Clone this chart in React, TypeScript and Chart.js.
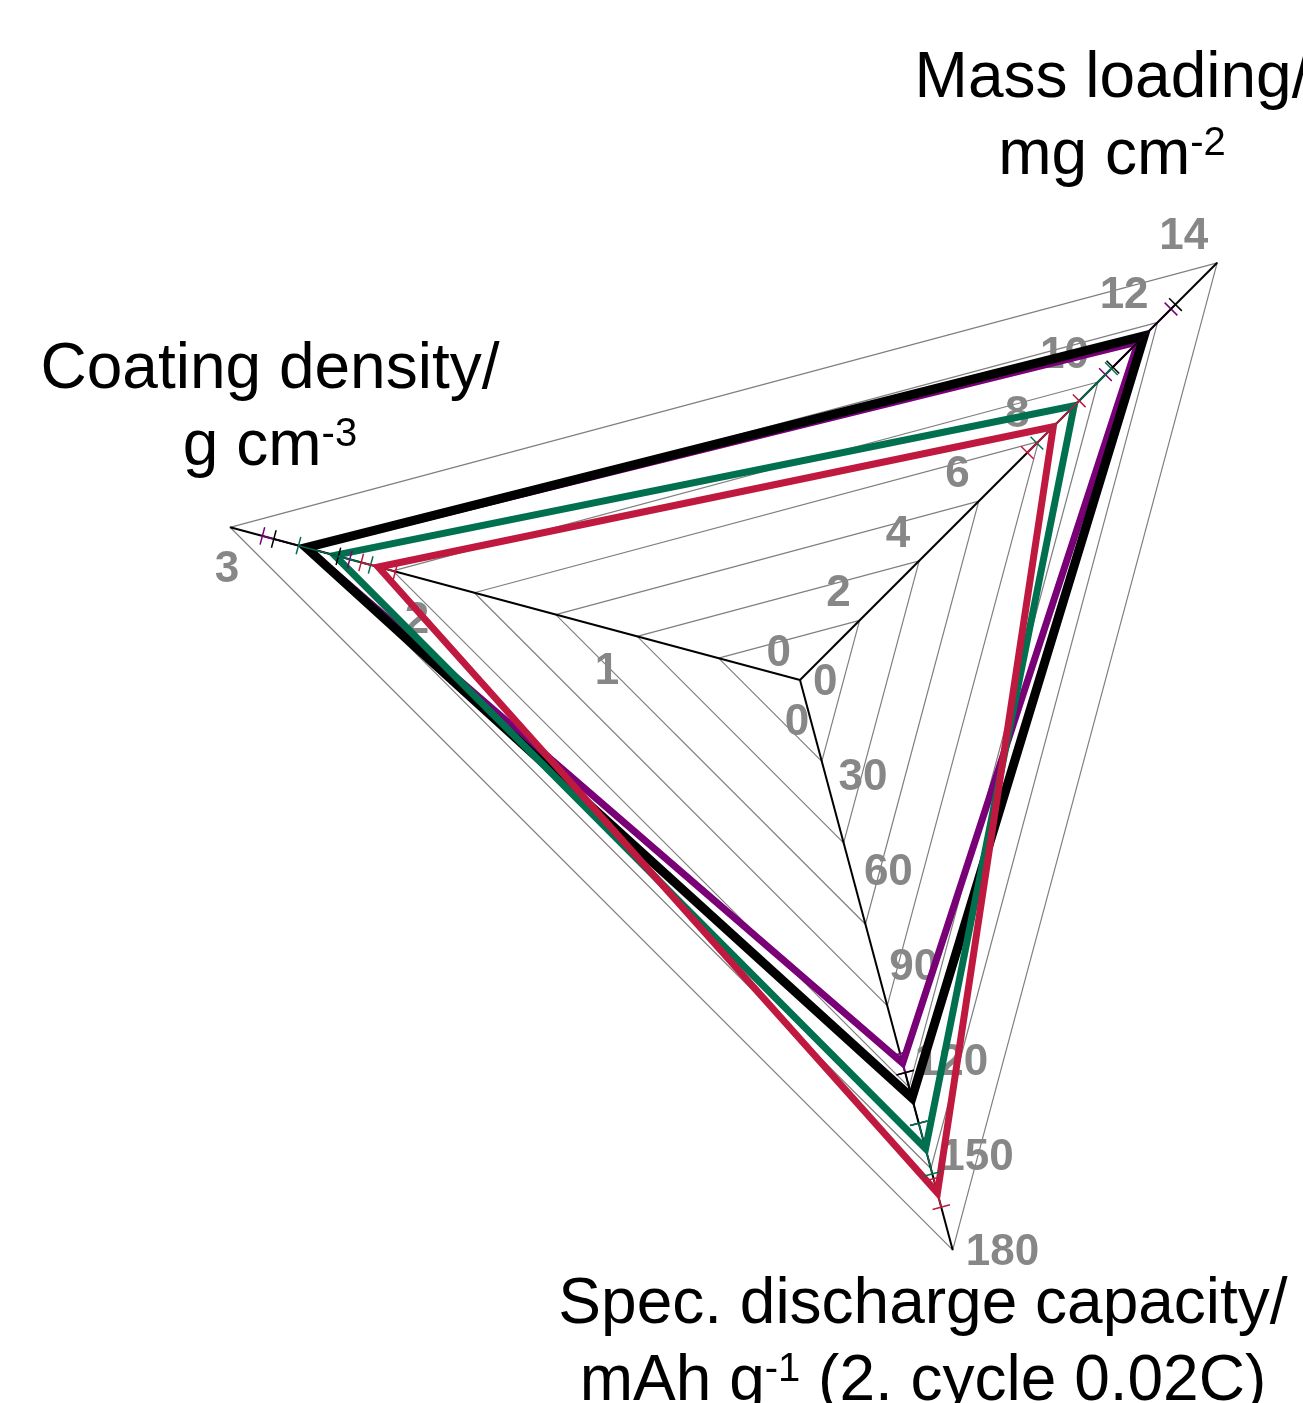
import React, { useEffect, useRef } from 'react';
import { Chart, registerables } from 'chart.js';

Chart.register(...registerables);

// ---------- data ----------
// axis order around the radar (clockwise from the upper right)
const axisNames = ['Mass loading', 'Spec. discharge capacity', 'Coating density'];
const axisMax = [14, 180, 3];
const massTicks = [0, 2, 4, 6, 8, 10, 12, 14];
const capacityTicks = [0, 30, 60, 90, 120, 150, 180];
const densityTicks = [0, 1, 2, 3];

// series (first one is drawn on top)
const seriesNames = ['Sample D', 'Sample C', 'Sample A', 'Sample B'];
const seriesColors = ['#C0193F', '#00704F', '#000000', '#7A0077'];
const massLoading = [8.5, 9.2, 11.55, 11.35]; // mg cm-2
const capacity = [162, 148, 132, 121]; // mAh g-1
const density = [2.22, 2.45, 2.6, 2.6]; // g cm-3
const massErr = [0.87, 1.25, 1.05, 1.1];
const capacityErr = [4.5, 8, 8, 3];
const densityErr = [0.09, 0.19, 0.17, 0.23];

// axis titles (segments, sup = superscript)
const titleMass = [[{ t: 'Mass loading/' }], [{ t: 'mg cm' }, { t: '-2', sup: true }]];
const titleCapacity = [
  [{ t: 'Spec. discharge capacity/' }],
  [{ t: 'mAh g' }, { t: '-1', sup: true }, { t: ' (2. cycle 0.02C)' }],
];
const titleDensity = [[{ t: 'Coating density/' }], [{ t: 'g cm' }, { t: '-3', sup: true }]];

// ---------- layout / style ----------
const LEVELS = 7;
const FAMILY = '"Liberation Sans", Arial, Helvetica, sans-serif';
const TICK_SIZE = 44;
const TICK_FONT = `bold ${TICK_SIZE}px ${FAMILY}`;
const TICK_COLOR = '#878787';
const TITLE_FONT = `64px ${FAMILY}`;
const SUP_FONT = `40px ${FAMILY}`;
const seriesWidths = [7, 7, 9, 7];
const tickStyle = [
  { align: 'right', dx: -9, dy: -30 },
  { align: 'left', dx: 13, dy: -1 },
  { align: 'center', dx: -3, dy: 39 },
];
const titlePlacement = [
  { lines: titleMass, cx: 1112, y: 97 },
  { lines: titleCapacity, cx: 923, y: 1323 },
  { lines: titleDensity, cx: 270, y: 388 },
];

const norm = (v: number, i: number) => (v / axisMax[i]) * LEVELS;

const tickLabelPlugin = {
  id: 'axisTickLabels',
  beforeDatasetsDraw(chart: any) {
    const r = chart.scales.r;
    const ctx = chart.ctx;
    const allTicks = [massTicks, capacityTicks, densityTicks];
    ctx.save();
    ctx.font = TICK_FONT;
    ctx.fillStyle = TICK_COLOR;
    ctx.textBaseline = 'alphabetic';
    allTicks.forEach((ticks, i) => {
      const st = tickStyle[i];
      ctx.textAlign = st.align;
      ticks.forEach((t) => {
        const p = r.getPointPosition(i, r.getDistanceFromCenterForValue(norm(t, i)));
        ctx.fillText(String(t), p.x + st.dx, p.y + st.dy + TICK_SIZE * 0.358);
      });
    });
    ctx.restore();
  },
};

const errorBarPlugin = {
  id: 'errorBars',
  afterDatasetsDraw(chart: any) {
    const r = chart.scales.r;
    const ctx = chart.ctx;
    const values = [massLoading, capacity, density];
    const errs = [massErr, capacityErr, densityErr];
    ctx.save();
    ctx.lineWidth = 1.5;
    for (let s = seriesColors.length - 1; s >= 0; s--) {
      ctx.strokeStyle = seriesColors[s];
      for (let i = 0; i < axisNames.length; i++) {
        const v = values[i][s];
        const e = errs[i][s];
        const lo = r.getPointPosition(i, r.getDistanceFromCenterForValue(norm(v - e, i)));
        const hi = r.getPointPosition(i, r.getDistanceFromCenterForValue(norm(v + e, i)));
        const px = -Math.sin(lo.angle) * 9;
        const py = Math.cos(lo.angle) * 9;
        ctx.beginPath();
        ctx.moveTo(lo.x, lo.y);
        ctx.lineTo(hi.x, hi.y);
        ctx.moveTo(lo.x - px, lo.y - py);
        ctx.lineTo(lo.x + px, lo.y + py);
        ctx.moveTo(hi.x - px, hi.y - py);
        ctx.lineTo(hi.x + px, hi.y + py);
        ctx.stroke();
      }
    }
    ctx.restore();
  },
};

const titlePlugin = {
  id: 'axisTitles',
  afterDraw(chart: any) {
    const ctx = chart.ctx;
    ctx.save();
    ctx.fillStyle = '#000000';
    ctx.textAlign = 'left';
    ctx.textBaseline = 'alphabetic';
    titlePlacement.forEach((tp) => {
      tp.lines.forEach((segs: any[], li: number) => {
        const y = tp.y + li * 77;
        let total = 0;
        const widths = segs.map((sg) => {
          ctx.font = sg.sup ? SUP_FONT : TITLE_FONT;
          const w = ctx.measureText(sg.t).width;
          total += w;
          return w;
        });
        let x = tp.cx - total / 2;
        segs.forEach((sg, k) => {
          ctx.font = sg.sup ? SUP_FONT : TITLE_FONT;
          ctx.fillText(sg.t, x, sg.sup ? y - 19 : y);
          x += widths[k];
        });
      });
    });
    ctx.restore();
  },
};

export default function App() {
  const ref = useRef<HTMLCanvasElement>(null);

  useEffect(() => {
    const canvas = ref.current;
    if (!canvas) return;
    const datasets = seriesNames.map((name, s) => ({
      label: name,
      data: [norm(massLoading[s], 0), norm(capacity[s], 1), norm(density[s], 2)],
      borderColor: seriesColors[s],
      backgroundColor: 'rgba(0,0,0,0)',
      borderWidth: seriesWidths[s],
      borderJoinStyle: 'miter',
      fill: false,
      pointRadius: 0,
      pointHoverRadius: 0,
      tension: 0,
    }));
    const chart = new Chart(canvas, {
      type: 'radar',
      data: { labels: axisNames, datasets },
      options: {
        responsive: false,
        animation: false,
        events: [],
        layout: { padding: { left: 210, right: 210, top: 90, bottom: 133 } },
        plugins: { legend: { display: false }, tooltip: { enabled: false } },
        scales: {
          r: {
            min: 0,
            max: LEVELS,
            startAngle: 45,
            ticks: { display: false, stepSize: 1 },
            pointLabels: { display: false },
            grid: { color: '#7f7f7f', lineWidth: 1.2 },
            angleLines: { color: '#000000', lineWidth: 2 },
          },
        },
      } as any,
      plugins: [tickLabelPlugin, errorBarPlugin, titlePlugin],
    } as any);
    return () => chart.destroy();
  }, []);

  return (
    <div
      style={{
        position: 'absolute',
        left: 0,
        top: 0,
        width: 1303,
        height: 1403,
        overflow: 'hidden',
        background: '#ffffff',
      }}
    >
      <canvas ref={ref} width={1600} height={1403} style={{ display: 'block' }} />
    </div>
  );
}
